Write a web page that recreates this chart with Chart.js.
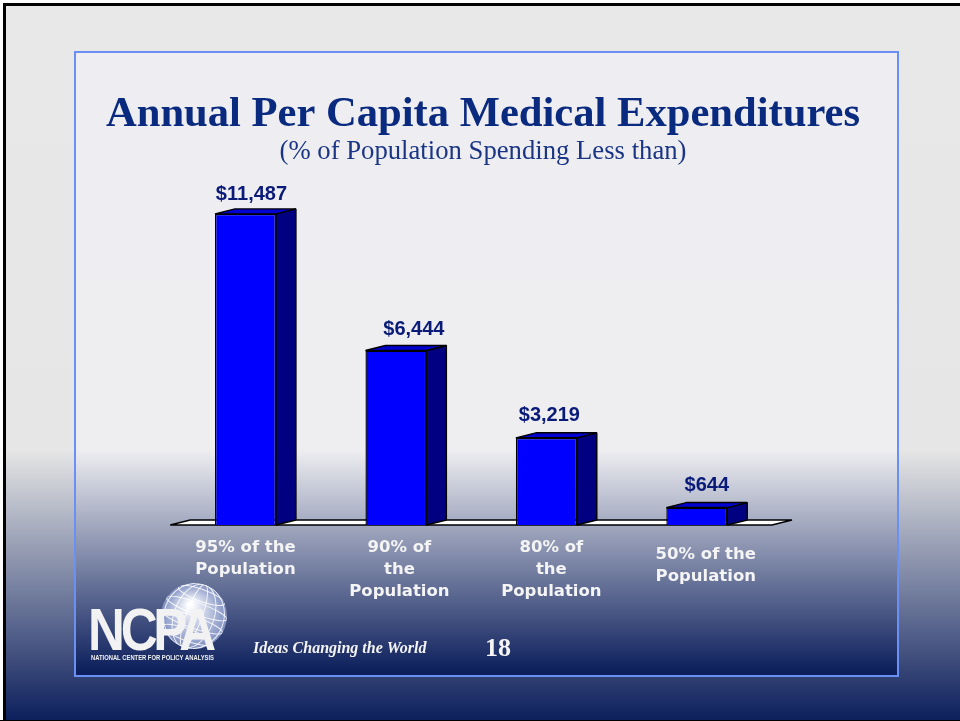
<!DOCTYPE html>
<html><head><meta charset="utf-8">
<style>html,body{margin:0;padding:0;background:#e8e8e8}canvas{display:block}</style>
<script src="https://cdn.jsdelivr.net/npm/chart.js@4"></script>
</head><body>
<canvas id="c" width="960" height="721"></canvas>
<script>
const categories = [["95% of the","Population"],["90% of","the","Population"],["80% of","the","Population"],["50% of the","Population"]];
const values = [11487, 6444, 3219, 644];
const valueLabels = ["$11,487","$6,444","$3,219","$644"];
const titleText = "Annual Per Capita Medical Expenditures";
const subtitleText = "(% of Population Spending Less than)";
const taglineText = "Ideas Changing the World";
const pageNumber = "18";

const depthX = 20, depthY = -5;
const tickShift = [[0,0],[3.5,0],[5,0],[9,7]];
const valueShift = [[6,2],[18,0],[3,-1],[10,-1]];

const slidePlugin = {
  id:'slide',
  beforeDraw(chart){
    const c = chart.ctx, W = chart.width, H = chart.height;
    c.save();
    let g = c.createLinearGradient(0,0,0,H);
    g.addColorStop(0,'#e8e8e8'); g.addColorStop(450/721,'#e6e6e6'); g.addColorStop(1,'#0c1f5c');
    c.fillStyle = g; c.fillRect(0,0,W,H);
    c.fillStyle = '#fdfdfd'; c.fillRect(0,0,W,3); c.fillRect(0,0,3,H);
    c.fillStyle = '#000';
    c.fillRect(3,3,W-3,3); c.fillRect(3,3,3,H-3); c.fillRect(0,720,W,1);
    g = c.createLinearGradient(0,52,0,676);
    g.addColorStop(0,'#eeeef2'); g.addColorStop((450-52)/624,'#eeeef1'); g.addColorStop((672-52)/624,'#0c1f5c'); g.addColorStop(1,'#0c1f5c');
    c.fillStyle = g; c.fillRect(75,52,823,624);
    c.strokeStyle = '#6a90f4'; c.lineWidth = 2; c.strokeRect(75,52,823,624);
    c.restore();
    drawLogo(c);
    const items = chart.scales.x.getLabelItems();
    items.forEach((it,i)=>{
      if(it._moved) return;
      it._moved = true;
      it.options.translation = [it.options.translation[0]+tickShift[i][0], it.options.translation[1]+tickShift[i][1]];
    });
  },
  beforeDatasetsDraw(chart){
    const c = chart.ctx, xs = chart.scales.x, base = chart.scales.y.getPixelForValue(0);
    c.save();
    c.lineWidth = 1.4; c.strokeStyle = '#000'; c.lineJoin = 'bevel';
    c.fillStyle = '#ffffff';
    c.beginPath();
    c.moveTo(xs.left,base); c.lineTo(xs.right,base);
    c.lineTo(xs.right+depthX,base+depthY); c.lineTo(xs.left+depthX,base+depthY); c.closePath();
    c.fill(); c.stroke();
    chart.getDatasetMeta(0).data.forEach(b=>{
      const l = b.x-b.width/2, r = b.x+b.width/2, t = b.y, bt = b.base;
      c.fillStyle = '#000080';
      c.beginPath(); c.moveTo(r,t); c.lineTo(r+depthX,t+depthY); c.lineTo(r+depthX,bt+depthY); c.lineTo(r,bt); c.closePath(); c.fill(); c.stroke();
      c.fillStyle = '#0000d0';
      c.beginPath(); c.moveTo(l,t); c.lineTo(l+depthX,t+depthY); c.lineTo(r+depthX,t+depthY); c.lineTo(r,t); c.closePath(); c.fill(); c.stroke();
    });
    c.restore();
  },
  afterDatasetsDraw(chart){
    const c = chart.ctx;
    c.save();
    c.font = 'bold 20px "Liberation Sans"'; c.fillStyle = '#0a1a78';
    c.textAlign = 'center'; c.textBaseline = 'middle';
    chart.getDatasetMeta(0).data.forEach((b,i)=>{
      c.fillText(valueLabels[i], b.x+valueShift[i][0], b.y-21+valueShift[i][1]);
    });
    c.fillStyle = '#f4f4f4';
    c.textAlign = 'left';
    c.font = 'italic bold 16px "Liberation Serif"';
    c.fillText(taglineText, 253, 649);
    c.font = 'bold 26px "Liberation Serif"';
    c.fillText(pageNumber, 485, 649);
    c.restore();
  }
};

function drawLogo(c){
  c.save();
  const gx = 194, gy = 616, r = 33;
  const g = c.createRadialGradient(gx-4,gy-12,2,gx,gy,r);
  g.addColorStop(0,'#ffffff'); g.addColorStop(.45,'#c4cce4'); g.addColorStop(1,'#7f8fc0');
  c.fillStyle = g; c.beginPath(); c.arc(gx,gy,r,0,Math.PI*2); c.fill();
  c.save();
  c.beginPath(); c.arc(gx,gy,r,0,Math.PI*2); c.clip();
  c.strokeStyle = 'rgba(255,255,255,.85)'; c.lineWidth = 1;
  [8,20,30].forEach(w=>{ c.save(); c.translate(gx,gy); c.rotate(.35); c.beginPath(); c.ellipse(0,0,w,r,0,0,Math.PI*2); c.stroke(); c.restore(); });
  [-22,-8,6,20].forEach(d=>{ c.save(); c.translate(gx,gy); c.rotate(.35); c.beginPath(); c.ellipse(0,d,Math.sqrt(r*r-d*d),6,0,0,Math.PI*2); c.stroke(); c.restore(); });
  c.restore();
  c.fillStyle = '#f2f2f2'; c.textBaseline = 'alphabetic'; c.textAlign = 'left';
  c.font = 'bold 60px "Liberation Sans"';
  c.letterSpacing = '-5px';
  c.fillText('NCPA', 88, 650, 124);
  c.letterSpacing = '0px';
  c.font = 'bold 6.5px "Liberation Sans"';
  c.fillText('NATIONAL CENTER FOR POLICY ANALYSIS', 91, 660, 123);
  c.restore();
}

new Chart(document.getElementById('c'),{
  type:'bar',
  data:{labels:categories,datasets:[{data:values,backgroundColor:'#0000ff',borderColor:'#000',borderWidth:1.4,barPercentage:.405,categoryPercentage:1}]},
  plugins:[slidePlugin],
  options:{
    responsive:false,animation:false,
    layout:{padding:{top:89,left:6,right:0,bottom:0}},
    plugins:{
      legend:{display:false},tooltip:{enabled:false},
      title:{display:true,text:titleText,color:'#0a2a80',font:{family:'"Liberation Serif"',size:42.6,weight:'bold',lineHeight:1.2},padding:{top:0,bottom:-1}},
      subtitle:{display:true,text:subtitleText,color:'#1a3585',font:{family:'"Liberation Serif"',size:26.7,weight:'normal',lineHeight:1},padding:{top:0,bottom:34.2}}
    },
    scales:{
      x:{grid:{display:false},border:{display:false},
        ticks:{color:'#f4f4f4',font:{family:'"DejaVu Sans"',size:16.5,weight:'bold',lineHeight:1.333},padding:4,autoSkip:false,maxRotation:0,minRotation:0},
        afterFit(s){s.height=196;}},
      y:{min:0,max:12000,grid:{display:false},border:{display:false},ticks:{display:false},afterFit(s){s.width=164.25;}},
      y1:{position:'right',min:0,max:12000,grid:{display:false},border:{display:false},ticks:{display:false},afterFit(s){s.width=188;}}
    }
  }
});
</script>
</body></html>
